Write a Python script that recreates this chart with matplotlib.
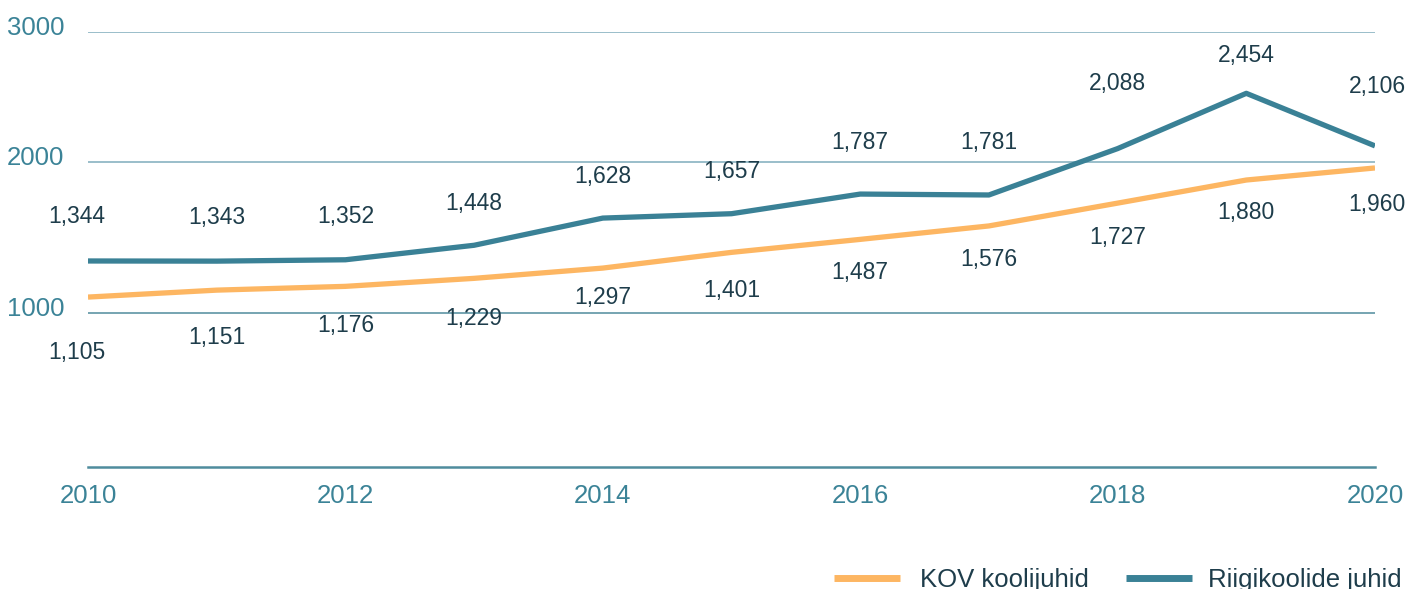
import matplotlib
matplotlib.use("Agg")
import matplotlib.pyplot as plt
from matplotlib.transforms import offset_copy

plt.rcParams["font.family"] = ["Liberation Sans", "DejaVu Sans"]

years = [2010, 2011, 2012, 2013, 2014, 2015, 2016, 2017, 2018, 2019, 2020]
kov = [1105, 1151, 1176, 1229, 1297, 1401, 1487, 1576, 1727, 1880, 1960]
riigi = [1344, 1343, 1352, 1448, 1628, 1657, 1787, 1781, 2088, 2454, 2106]
series_names = ["KOV koolijuhid", "Riigikoolide juhid"]
y_ticks = [1000, 2000, 3000]
x_ticks = [2010, 2012, 2014, 2016, 2018, 2020]

# label offsets in pixels (dx, dy) — as placed in the reference
kov_label_dy = [-55, -47, -39, -40, -29, -38, -33, -34, -34, -32, -37]
riigi_label_dy = [44, 44, 43, 42, 42, 42, 52, 52, 65, 38, 59]
label_dx = [-11, 0, 0, 0, 0, 0, 0, 0, 0, 0, 2]

C_KOV = "#FDB662"
C_RIIGI = "#3A8196"
C_TEXT = "#1E3D4B"
C_TICK = "#3B8397"
C_GRID = "#92B9C6"
C_BASE = "#4F8C9D"

Y_TOP = 2860  # top gridline sits here in the reference, labelled 3000

fig = plt.figure(figsize=(14.1, 5.89), dpi=100)
ax = fig.add_axes([88 / 1410, 1 - 467 / 589, (1375 - 88) / 1410, (467 - 32) / 589])
ax.set_xlim(2010, 2020)
ax.set_ylim(-20, Y_TOP)

for s in ax.spines.values():
    s.set_visible(False)

ax.axhline(Y_TOP, color=C_GRID, lw=1.3, zorder=1)
ax.axhline(2000, color=C_GRID, lw=1.3, zorder=1)
ax.axhline(1000, color=C_BASE, lw=1.1, zorder=1)
ax.axhline(-20, color=C_BASE, lw=1.8, zorder=1, clip_on=False)

ax.plot(years, kov, color=C_KOV, lw=3.8, solid_capstyle="butt", zorder=3)
ax.plot(years, riigi, color=C_RIIGI, lw=3.8, solid_capstyle="butt", zorder=4)

for x, v, dy, dx in zip(years, kov, kov_label_dy, label_dx):
    ax.annotate(f"{v:,}", (x, v), xytext=(dx, dy), textcoords="offset pixels",
                ha="center", va="center", fontsize=16.5, color=C_TEXT)
for x, v, dy, dx in zip(years, riigi, riigi_label_dy, label_dx):
    ax.annotate(f"{v:,}", (x, v), xytext=(dx, dy), textcoords="offset pixels",
                ha="center", va="center", fontsize=16.5, color=C_TEXT)

ax.set_xticks(x_ticks)
ax.set_xticklabels([str(t) for t in x_ticks])
ax.tick_params(axis="x", length=0, pad=12, labelsize=18.5, labelcolor=C_TICK)
ax.set_yticks([1000, 2000, Y_TOP])
ax.set_yticklabels([str(t) for t in y_ticks])
ax.tick_params(axis="y", length=0, pad=17, labelsize=18.5, labelcolor=C_TICK)
for lbl in ax.get_yticklabels():
    lbl.set_verticalalignment("center")
    lbl.set_transform(offset_copy(lbl.get_transform(), fig=fig, x=0, y=4, units="dots"))

# legend, bottom right (partly cut off by the image edge as in the reference)
ly = 1 - 578 / 589
fig.add_artist(plt.Line2D([834 / 1410, 900 / 1410], [ly, ly],
                          color=C_KOV, lw=5, solid_capstyle="butt"))
fig.text(920 / 1410, 1 - 587 / 589, series_names[0], fontsize=18.5,
         color=C_TEXT, ha="left", va="baseline")
fig.add_artist(plt.Line2D([1126 / 1410, 1192 / 1410], [ly, ly],
                          color=C_RIIGI, lw=5, solid_capstyle="butt"))
fig.text(1208 / 1410, 1 - 587 / 589, series_names[1], fontsize=18.5,
         color=C_TEXT, ha="left", va="baseline")

fig.savefig("out.png", dpi=100)
